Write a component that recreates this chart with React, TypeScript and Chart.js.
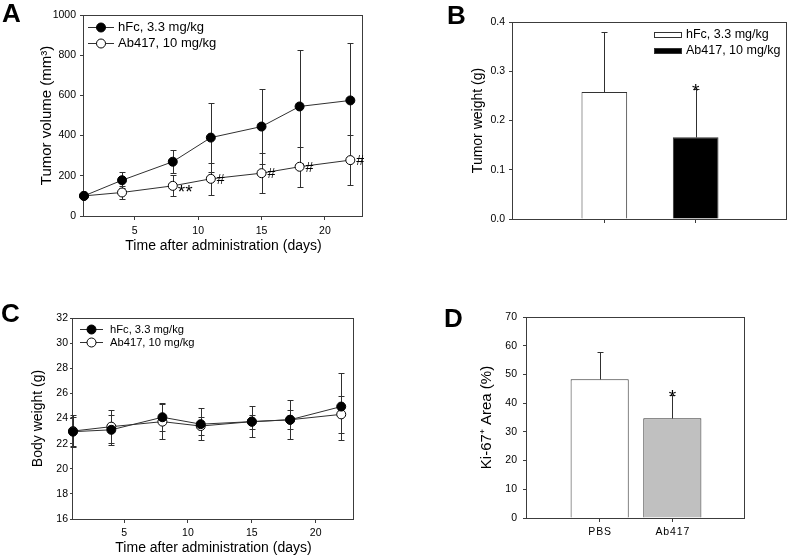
import React, { useEffect, useRef } from 'react';
import { Chart, registerables } from 'chart.js';

Chart.register(...registerables);

const FONT = 'Arial, "Liberation Sans", Helvetica, sans-serif';
const INK = '#000000';
const AXIS = '#3c3c3c';
const LINE = '#303030';

// ---------- Panel A: tumor volume ----------
const daysA = [1, 4, 8, 11, 15, 18, 22];
const volHFc = [100, 178, 270, 390, 445, 545, 575];
const volHFcErr = [0, 40, 58, 170, 187, 281, 285];
const volAb = [100, 117, 150, 185, 213, 245, 278];
const volAbErr = [0, 33, 52, 80, 100, 100, 125];
const volAbMarks = ['', '', '**', '#', '#', '#', '#'];
const seriesNames = ['hFc, 3.3 mg/kg', 'Ab417, 10 mg/kg'];
const timeTicks = [5, 10, 15, 20];

// ---------- Panel B: tumor weight ----------
const weightGroups = ['hFc, 3.3 mg/kg', 'Ab417, 10 mg/kg'];
const weightColors = ['#ffffff', '#000000'];
const tumorWeight = [0.258, 0.166];
const tumorWeightErr = [0.121, 0.097];
const tumorWeightMarks = ['', '*'];

// ---------- Panel C: body weight ----------
const daysC = [1, 4, 8, 11, 15, 18, 22];
const bwHFc = [22.95, 23.1, 24.1, 23.55, 23.75, 23.9, 24.95];
const bwHFcErr = [1.15, 1.2, 1.1, 1.3, 1.25, 1.55, 2.65];
const bwAb = [23.0, 23.35, 23.75, 23.4, 23.75, 23.9, 24.33];
const bwAbErr = [1.3, 1.3, 1.4, 0.75, 0.55, 0.75, 1.45];

// ---------- Panel D: Ki-67 ----------
const ki67Groups = ['PBS', 'Ab417'];
const ki67Colors = ['#ffffff', '#c0c0c0'];
const ki67Area = [48.3, 34.7];
const ki67Err = [9.5, 8.0];
const ki67Marks = ['', '*'];

// ---------- helpers ----------
const pad2 = <T,>(arr: T[], fill: T): T[] => [fill, ...arr, fill];

const framePlugin = {
  id: 'frame',
  beforeDatasetsDraw(chart: any) {
    const { ctx, chartArea: a } = chart;
    ctx.save();
    ctx.strokeStyle = AXIS;
    ctx.lineWidth = 1;
    const l = Math.round(a.left) - 0.5;
    const t = Math.round(a.top) + 0.5;
    const r = Math.round(a.right) - 0.5;
    const b = Math.round(a.bottom) + 0.5;
    ctx.strokeRect(l, t, r - l, b - t);
    ctx.restore();
  },
};

function errorBars(id: string, sets: { ds: number; err: number[] }[], upOnly: boolean, after: boolean, cap = 6) {
  const draw = (chart: any) => {
    const ctx = chart.ctx;
    const ys = chart.scales.y;
    ctx.save();
    ctx.strokeStyle = LINE;
    ctx.lineWidth = 1;
    for (const s of sets) {
      const meta = chart.getDatasetMeta(s.ds);
      const data = chart.data.datasets[s.ds].data;
      meta.data.forEach((el: any, i: number) => {
        const raw = data[i];
        const v = typeof raw === 'number' ? raw : raw && raw.y;
        const e = s.err[i];
        if (v == null || !e) return;
        const x = Math.round(el.x) + 0.5;
        const yTop = Math.round(ys.getPixelForValue(v + e)) + 0.5;
        const yBot = Math.round(ys.getPixelForValue(upOnly ? v : v - e)) + 0.5;
        ctx.beginPath();
        ctx.moveTo(x, yTop);
        ctx.lineTo(x, yBot);
        ctx.moveTo(x - cap / 2, yTop);
        ctx.lineTo(x + cap / 2, yTop);
        if (!upOnly) {
          ctx.moveTo(x - cap / 2, yBot);
          ctx.lineTo(x + cap / 2, yBot);
        }
        ctx.stroke();
      });
    }
    ctx.restore();
  };
  return after ? { id, afterDatasetsDraw: draw } : { id, beforeDatasetsDraw: draw };
}

function lineMarks(dsIndex: number, marks: string[], starSize: number, hashSize: number) {
  return {
    id: 'lineMarks',
    afterDatasetsDraw(chart: any) {
      const ctx = chart.ctx;
      const meta = chart.getDatasetMeta(dsIndex);
      ctx.save();
      ctx.fillStyle = INK;
      ctx.textAlign = 'left';
      meta.data.forEach((el: any, i: number) => {
        const t = marks[i];
        if (!t) return;
        if (t.includes('*')) {
          ctx.font = `${starSize}px ${FONT}`;
          ctx.textBaseline = 'alphabetic';
          ctx.fillText(t, el.x + 5, el.y + 1 + 0.57 * starSize);
        } else {
          ctx.font = `${hashSize}px ${FONT}`;
          ctx.textBaseline = 'middle';
          ctx.fillText(t, el.x + 6, el.y + 1);
        }
      });
      ctx.restore();
    },
  };
}

function barMarks(marks: string[], errs: number[], size: number) {
  return {
    id: 'barMarks',
    afterDatasetsDraw(chart: any) {
      const ctx = chart.ctx;
      const meta = chart.getDatasetMeta(0);
      const ys = chart.scales.y;
      const data = chart.data.datasets[0].data;
      ctx.save();
      ctx.fillStyle = INK;
      ctx.textAlign = 'center';
      ctx.textBaseline = 'alphabetic';
      ctx.font = `${size}px ${FONT}`;
      meta.data.forEach((el: any, i: number) => {
        const t = marks[i];
        if (!t || data[i] == null) return;
        const top = ys.getPixelForValue(data[i] + errs[i]);
        ctx.fillText(t, el.x, top - 1 + 0.43 * size);
      });
      ctx.restore();
    },
  };
}

function lineLegend(cfg: { x0: number; x1: number; top: number; dy: number; textX: number; size: number; r: number }) {
  return {
    id: 'lineLegend',
    afterDraw(chart: any) {
      const { ctx, chartArea: a } = chart;
      ctx.save();
      chart.data.datasets.forEach((ds: any, i: number) => {
        const y = Math.round(a.top + cfg.top + i * cfg.dy) + 0.5;
        ctx.strokeStyle = LINE;
        ctx.lineWidth = 1;
        ctx.beginPath();
        ctx.moveTo(a.left + cfg.x0, y);
        ctx.lineTo(a.left + cfg.x1, y);
        ctx.stroke();
        ctx.beginPath();
        ctx.arc(a.left + (cfg.x0 + cfg.x1) / 2, y, cfg.r, 0, Math.PI * 2);
        ctx.fillStyle = ds.pointBackgroundColor;
        ctx.fill();
        ctx.strokeStyle = '#000';
        ctx.stroke();
        ctx.fillStyle = INK;
        ctx.font = `${cfg.size}px ${FONT}`;
        ctx.textAlign = 'left';
        ctx.textBaseline = 'middle';
        ctx.fillText(ds.label, a.left + cfg.textX, y);
      });
      ctx.restore();
    },
  };
}

function boxLegend(labels: string[], colors: string[], cfg: { fromRight: number; top: number; dy: number; size: number }) {
  return {
    id: 'boxLegend',
    afterDraw(chart: any) {
      const { ctx, chartArea: a } = chart;
      ctx.save();
      labels.forEach((lab, i) => {
        const y = Math.round(a.top + cfg.top + i * cfg.dy);
        const x = Math.round(a.right - cfg.fromRight);
        ctx.fillStyle = colors[i];
        ctx.fillRect(x, y - 3, 28, 6);
        ctx.strokeStyle = '#333';
        ctx.lineWidth = 1;
        ctx.strokeRect(x + 0.5, y - 2.5, 27, 5);
        ctx.fillStyle = INK;
        ctx.font = `${cfg.size}px ${FONT}`;
        ctx.textAlign = 'left';
        ctx.textBaseline = 'middle';
        ctx.fillText(lab, x + 32, y);
      });
      ctx.restore();
    },
  };
}

const gridOpts = (tickLength: number) => ({
  display: true,
  drawOnChartArea: false,
  drawTicks: true,
  tickLength,
  color: AXIS,
  offset: false,
});

function valueAxis(o: {
  min: number; max: number; step: number; width: number; title: string; titleSize: number;
  titlePad: number; tickPad: number; tickLen: number; fmt?: (v: any) => string;
}) {
  const ticks: any = {
    stepSize: o.step,
    color: INK,
    font: { family: FONT, size: 10.5 },
    padding: o.tickPad,
    callback: o.fmt || ((v: any) => String(v)),
  };
  return {
    type: 'linear',
    min: o.min,
    max: o.max,
    ticks,
    grid: gridOpts(o.tickLen),
    border: { display: false },
    title: {
      display: true,
      text: o.title,
      color: INK,
      font: { family: FONT, size: o.titleSize },
      padding: { top: o.titlePad, bottom: 0 },
    },
    afterFit: (s: any) => { s.width = o.width; },
  };
}

function timeAxis(height: number, tickPad: number, titlePadBottom: number) {
  return {
    type: 'linear',
    min: 1,
    max: 23,
    afterBuildTicks: (s: any) => { s.ticks = timeTicks.map((value) => ({ value })); },
    ticks: { color: INK, font: { family: FONT, size: 10.5 }, padding: tickPad, maxRotation: 0, callback: (v: any) => String(v) },
    grid: gridOpts(4),
    border: { display: false },
    title: {
      display: true,
      text: 'Time after administration (days)',
      color: INK,
      font: { family: FONT, size: 14 },
      padding: { top: 0, bottom: titlePadBottom },
    },
    afterFit: (s: any) => { s.height = height; },
  };
}

function groupAxis(labels: string[], height: number, tickPad: number, showLabels: boolean) {
  return {
    type: 'category',
    labels,
    offset: false,
    afterBuildTicks: (s: any) => { s.ticks = s.ticks.filter((t: any) => labels[t.value] !== ''); },
    ticks: {
      color: INK,
      font: { family: FONT, size: 10.5 },
      padding: tickPad,
      maxRotation: 0,
      autoSkip: false,
      callback: (v: any) => (showLabels ? labels[v].split('').join('\u200A') : ''),
    },
    grid: gridOpts(4),
    border: { display: false },
    afterFit: (s: any) => { s.height = height; },
  };
}

function lineSeries(label: string, xs: number[], ys: number[], fill: string) {
  return {
    label,
    data: xs.map((x, i) => ({ x, y: ys[i] })),
    borderColor: LINE,
    borderWidth: 1,
    pointRadius: 4.5,
    pointBackgroundColor: fill,
    pointBorderColor: '#000',
    pointBorderWidth: 1,
    tension: 0,
    clip: false,
  };
}

const baseOptions = (padding: any) => ({
  animation: false,
  responsive: false,
  devicePixelRatio: 1,
  layout: { padding },
  plugins: { legend: { display: false }, tooltip: { enabled: false } },
});

// ---------- chart configs ----------
function configA(): any {
  return {
    type: 'line',
    data: {
      datasets: [
        lineSeries(seriesNames[0], daysA, volHFc, '#000000'),
        lineSeries(seriesNames[1], daysA, volAb, '#ffffff'),
      ],
    },
    options: {
      ...baseOptions({ left: 0, top: 15, right: 27, bottom: 0 }),
      scales: {
        x: timeAxis(46, 5, 7.6),
        y: valueAxis({ min: 0, max: 1000, step: 200, width: 84, title: 'Tumor volume (mm³)', titleSize: 15, titlePad: 38, tickPad: 4, tickLen: 4 }),
      },
    },
    plugins: [
      framePlugin,
      errorBars('errA', [{ ds: 0, err: volHFcErr }, { ds: 1, err: volAbErr }], false, false),
      lineMarks(1, volAbMarks, 19, 14),
      lineLegend({ x0: 4, x1: 30, top: 11.5, dy: 16.5, textX: 34, size: 13, r: 4.5 }),
    ],
  };
}

function configB(): any {
  const labels = pad2(weightGroups, '');
  return {
    type: 'bar',
    data: {
      labels,
      datasets: [{
        label: 'Tumor weight',
        data: pad2<number | null>(tumorWeight, null),
        backgroundColor: pad2(weightColors, 'transparent'),
        borderColor: '#333',
        borderWidth: 1,
        barPercentage: 0.5,
        categoryPercentage: 1,
      }],
    },
    options: {
      ...baseOptions({ left: 0, top: 22, right: 2, bottom: 0 }),
      scales: {
        x: groupAxis(labels, 43, 4, false),
        y: valueAxis({ min: 0, max: 0.4, step: 0.1, width: 113, title: 'Tumor weight (g)', titleSize: 14, titlePad: 69.6, tickPad: 4, tickLen: 4, fmt: (v: any) => Number(v).toFixed(1) }),
      },
    },
    plugins: [
      framePlugin,
      errorBars('errB', [{ ds: 0, err: pad2(tumorWeightErr, 0) }], true, true),
      barMarks(pad2(tumorWeightMarks, ''), pad2(tumorWeightErr, 0), 19),
      boxLegend(weightGroups, weightColors, { fromRight: 133, top: 13, dy: 15.5, size: 12.5 }),
    ],
  };
}

function configC(): any {
  return {
    type: 'line',
    data: {
      datasets: [
        lineSeries(seriesNames[0], daysC, bwHFc, '#000000'),
        lineSeries(seriesNames[1], daysC, bwAb, '#ffffff'),
      ],
    },
    options: {
      ...baseOptions({ left: 0, top: 48, right: 36, bottom: 0 }),
      scales: {
        x: timeAxis(38, 4, 0),
        y: valueAxis({ min: 16, max: 32, step: 2, width: 73, title: 'Body weight (g)', titleSize: 14, titlePad: 29.6, tickPad: 2, tickLen: 3 }),
      },
    },
    plugins: [
      framePlugin,
      errorBars('errC', [{ ds: 0, err: bwHFcErr }, { ds: 1, err: bwAbErr }], false, false),
      lineLegend({ x0: 7, x1: 30, top: 11, dy: 13, textX: 37, size: 11.2, r: 4.5 }),
    ],
  };
}

function configD(): any {
  const labels = pad2(ki67Groups, '');
  return {
    type: 'bar',
    data: {
      labels,
      datasets: [{
        label: 'Ki-67 area',
        data: pad2<number | null>(ki67Area, null),
        backgroundColor: pad2(ki67Colors, 'transparent'),
        borderColor: '#333',
        borderWidth: 1,
        barPercentage: 0.8,
        categoryPercentage: 1,
      }],
    },
    options: {
      ...baseOptions({ left: 0, top: 47, right: 44, bottom: 0 }),
      scales: {
        x: groupAxis(labels, 39, 4, true),
        y: valueAxis({ min: 0, max: 70, step: 10, width: 127, title: 'Ki-67⁺ Area (%)', titleSize: 15, titlePad: 78, tickPad: 6, tickLen: 4 }),
      },
    },
    plugins: [
      framePlugin,
      errorBars('errD', [{ ds: 0, err: pad2(ki67Err, 0) }], true, true),
      barMarks(pad2(ki67Marks, ''), pad2(ki67Err, 0), 19),
    ],
  };
}

function ChartCanvas({ left, top, width, height, make }: { left: number; top: number; width: number; height: number; make: () => any }) {
  const ref = useRef<HTMLCanvasElement>(null);
  useEffect(() => {
    const chart = new Chart(ref.current as HTMLCanvasElement, make());
    return () => chart.destroy();
  }, []);
  return (
    <canvas
      ref={ref}
      width={width}
      height={height}
      style={{ position: 'absolute', left, top, width, height, display: 'block' }}
    />
  );
}

const letterStyle = (left: number, top: number): React.CSSProperties => ({
  position: 'absolute',
  left,
  top,
  fontFamily: FONT,
  fontWeight: 'bold',
  fontSize: 26,
  lineHeight: '26px',
  color: '#000',
});

export default function App() {
  return (
    <div style={{ position: 'absolute', left: 0, top: 0, width: 789, height: 557, background: '#fff', overflow: 'hidden' }}>
      <ChartCanvas left={0} top={0} width={390} height={262} make={configA} />
      <ChartCanvas left={400} top={0} width={389} height={262} make={configB} />
      <ChartCanvas left={0} top={270} width={390} height={287} make={configC} />
      <ChartCanvas left={400} top={270} width={389} height={287} make={configD} />
      <div style={letterStyle(2, 0)}>A</div>
      <div style={letterStyle(447, 2)}>B</div>
      <div style={letterStyle(1, 300)}>C</div>
      <div style={letterStyle(444, 305)}>D</div>
    </div>
  );
}
